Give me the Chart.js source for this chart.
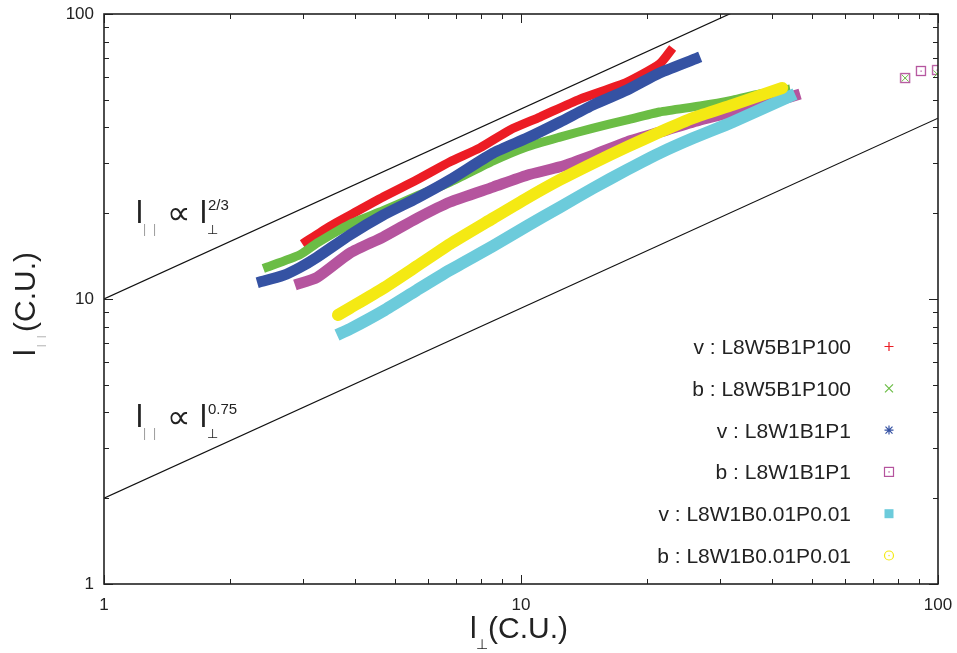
<!DOCTYPE html>
<html><head><meta charset="utf-8">
<script src="https://cdn.jsdelivr.net/npm/chart.js@4/dist/chart.umd.min.js"></script>
<style>html,body{margin:0;padding:0;background:#fff;}</style>
</head><body>
<canvas id="c" width="957" height="653"></canvas>
<script>
// ---------- data ----------
const xTickValues = [1, 10, 100];
const yTickValues = [1, 10, 100];

const seriesLabels = ['v : L8W5B1P100', 'b : L8W5B1P100', 'v : L8W1B1P1',
                      'b : L8W1B1P1', 'v : L8W1B0.01P0.01', 'b : L8W1B0.01P0.01'];

// v : L8W5B1P100 (red)
const vW5B1P100_x = [2.99, 3.48, 3.89, 4.67, 5.63, 6.76, 7.97, 9.41, 11.1, 13.85, 17.96, 21.5, 23.1];
const vW5B1P100_y = [15.6, 18.0, 19.7, 22.8, 26.2, 30.3, 33.9, 39.2, 43.5, 50.3, 57.7, 66.8, 76.0];
// b : L8W5B1P100 (green)
const bW5B1P100_x = [2.41, 2.95, 3.24, 3.89, 4.67, 5.63, 6.76, 8.57, 10.34, 12.4, 14.9, 17.96, 21.5, 26.9, 32.2, 37.4, 44.2];
const bW5B1P100_y = [12.8, 14.3, 15.7, 18.3, 20.4, 23.0, 25.7, 30.5, 34.2, 37.0, 39.8, 42.5, 45.3, 47.6, 49.9, 52.4, 54.6];
// v : L8W1B1P1 (blue)
const vW1B1P1_x = [2.33, 2.69, 2.95, 3.24, 3.89, 4.67, 5.63, 6.76, 8.57, 10.34, 12.4, 14.9, 17.96, 21.5, 26.9];
const vW1B1P1_y = [11.4, 12.1, 12.9, 14.0, 16.8, 19.7, 22.6, 26.2, 32.5, 36.7, 41.8, 48.0, 54.1, 62.1, 70.7];
// b : L8W1B1P1 (magenta)
const bW1B1P1_x = [2.87, 3.24, 3.89, 4.67, 5.63, 6.76, 8.57, 10.34, 12.4, 14.9, 17.96, 22.4, 26.9, 32.2, 42.5, 46.7];
const bW1B1P1_y = [11.2, 11.9, 14.5, 16.5, 19.2, 21.9, 24.7, 27.2, 29.1, 32.0, 35.6, 39.2, 42.5, 45.3, 50.3, 52.4];
// v : L8W1B0.01P0.01 (cyan)
const vW1B001_x = [3.62, 3.89, 4.67, 5.63, 6.76, 8.57, 10.34, 12.4, 14.9, 17.96, 21.5, 25.9, 32.2, 45.4];
const vW1B001_y = [7.48, 7.85, 9.08, 10.75, 12.64, 15.35, 18.04, 21.0, 24.5, 28.4, 32.5, 36.7, 41.8, 52.4];
// b : L8W1B0.01P0.01 (yellow)
const bW1B001_x = [3.64, 3.89, 4.67, 5.63, 6.76, 8.57, 10.34, 12.4, 14.9, 17.96, 21.5, 25.9, 32.2, 42.3];
const bW1B001_y = [8.79, 9.30, 10.9, 13.05, 15.6, 19.2, 22.6, 26.2, 30.0, 34.2, 38.5, 43.2, 48.0, 55.0];

// isolated points near the right edge
const bW1B1P1_farX = [83.4, 91.0, 99.5];
const bW1B1P1_farY = [59.6, 63.1, 63.6];
const bW5B1P100_farX = [83.4, 99.5];
const bW5B1P100_farY = [59.6, 61.6];

// guide lines l|| ∝ l⊥^a
const guideX = [1, 100];
const guideUpperY = [10, 215.4];
const guideLowerY = [2, 43.1];

// ---------- styling ----------
const colors = ['#ec1c24', '#6bbd45', '#3552a3', '#b5549e', '#6ccbdb', '#f4e913'];
const widths = [9, 9, 11, 11, 12, 12];
const caps = ['butt', 'butt', 'butt', 'butt', 'butt', 'round'];
const SERIES = [
  [vW5B1P100_x, vW5B1P100_y], [bW5B1P100_x, bW5B1P100_y], [vW1B1P1_x, vW1B1P1_y],
  [bW1B1P1_x, bW1B1P1_y], [vW1B001_x, vW1B001_y], [bW1B001_x, bW1B001_y]
];
const pts = (xs, ys) => xs.map((x, i) => ({x: x, y: ys[i]}));
const FONT = '"Liberation Sans", Arial, Helvetica, sans-serif';
const SYMF = '"DejaVu Sans", sans-serif';

function squareDot(col) {
  const c = document.createElement('canvas'); c.width = 12; c.height = 12;
  const g = c.getContext('2d');
  g.strokeStyle = col; g.lineWidth = 1.3; g.strokeRect(1.5, 1.5, 9, 9);
  g.fillStyle = col; g.fillRect(5.5, 5.5, 1.3, 1.3);
  return c;
}

const datasets = [];
datasets.push({label: 'guide 2/3', data: pts(guideX, guideUpperY), showLine: true, borderColor: '#111', borderWidth: 1.2, pointRadius: 0, order: 10});
datasets.push({label: 'guide 0.75', data: pts(guideX, guideLowerY), showLine: true, borderColor: '#111', borderWidth: 1.2, pointRadius: 0, order: 10});
SERIES.forEach((s, i) => {
  datasets.push({
    label: seriesLabels[i], data: pts(s[0], s[1]), showLine: true,
    borderColor: colors[i], backgroundColor: colors[i], borderWidth: widths[i],
    borderCapStyle: caps[i], borderJoinStyle: 'round', tension: 0.2,
    pointRadius: 0, order: 8 - i
  });
});
datasets.push({label: 'b : L8W1B1P1 (far)', data: pts(bW1B1P1_farX, bW1B1P1_farY), showLine: false,
  pointStyle: squareDot(colors[3]), pointRadius: 6, order: 1});
datasets.push({label: 'b : L8W5B1P100 (far)', data: pts(bW5B1P100_farX, bW5B1P100_farY), showLine: false,
  pointStyle: 'crossRot', pointRadius: 5, borderColor: colors[1], borderWidth: 1, order: 0});

// ---------- decorations plugin ----------
function drawLaw(ctx, x, base, sup) {
  ctx.textAlign = 'left'; ctx.textBaseline = 'alphabetic';
  ctx.fillStyle = '#222'; ctx.font = '31px ' + FONT;
  ctx.fillText('l', x - 2, base);
  ctx.fillStyle = '#9a9a9a'; ctx.font = '12px ' + FONT;
  ctx.fillText('|', x + 5, base + 10);
  ctx.fillText('|', x + 15, base + 10);
  ctx.fillStyle = '#222'; ctx.font = '33px ' + SYMF;
  ctx.fillText('\u221D', x + 29, base + 1);
  ctx.font = '31px ' + FONT;
  ctx.fillText('l', x + 62, base);
  ctx.font = '13px ' + SYMF;
  ctx.fillText('\u22A5', x + 69, base + 11);
  ctx.font = '15px ' + FONT;
  ctx.fillText(sup, x + 70, base - 13);
}

function legendMarker(ctx, i, cx, cy) {
  const col = colors[i];
  ctx.strokeStyle = col; ctx.fillStyle = col; ctx.lineWidth = 1.2;
  ctx.beginPath();
  if (i === 0) { ctx.moveTo(cx - 4.5, cy); ctx.lineTo(cx + 4.5, cy); ctx.moveTo(cx, cy - 4.5); ctx.lineTo(cx, cy + 4.5); ctx.stroke(); }
  else if (i === 1) { ctx.moveTo(cx - 4, cy - 4); ctx.lineTo(cx + 4, cy + 4); ctx.moveTo(cx - 4, cy + 4); ctx.lineTo(cx + 4, cy - 4); ctx.stroke(); }
  else if (i === 2) { ctx.moveTo(cx - 4.5, cy); ctx.lineTo(cx + 4.5, cy); ctx.moveTo(cx, cy - 4.5); ctx.lineTo(cx, cy + 4.5);
    ctx.moveTo(cx - 3.5, cy - 3.5); ctx.lineTo(cx + 3.5, cy + 3.5); ctx.moveTo(cx - 3.5, cy + 3.5); ctx.lineTo(cx + 3.5, cy - 3.5); ctx.stroke(); }
  else if (i === 3) { ctx.strokeRect(cx - 4.5, cy - 4.5, 9, 9); ctx.fillRect(cx - 0.6, cy - 0.6, 1.3, 1.3); }
  else if (i === 4) { ctx.fillRect(cx - 4.5, cy - 4.5, 9, 9); }
  else { ctx.arc(cx, cy, 4.5, 0, Math.PI * 2); ctx.stroke(); ctx.fillRect(cx - 0.6, cy - 0.6, 1.3, 1.3); }
}

const deco = {
  id: 'deco',
  afterDraw(chart) {
    const ctx = chart.ctx, a = chart.chartArea, xs = chart.scales.x, ys = chart.scales.y;
    ctx.save();
    // inward ticks on all four sides
    const tv = [];
    [1, 10].forEach(d => { for (let m = 1; m <= 9; m++) tv.push(m * d); });
    tv.push(100);
    ctx.strokeStyle = '#222'; ctx.lineWidth = 1;
    tv.forEach(v => {
      const L = (v === 1 || v === 10 || v === 100) ? 9 : 5;
      const px = Math.round(xs.getPixelForValue(v)) + 0.5;
      const py = Math.round(ys.getPixelForValue(v)) + 0.5;
      ctx.beginPath();
      ctx.moveTo(px, a.bottom); ctx.lineTo(px, a.bottom - L);
      ctx.moveTo(px, a.top); ctx.lineTo(px, a.top + L);
      ctx.moveTo(a.left, py); ctx.lineTo(a.left + L, py);
      ctx.moveTo(a.right, py); ctx.lineTo(a.right - L, py);
      ctx.stroke();
    });
    // frame
    ctx.lineWidth = 1.6;
    ctx.strokeRect(a.left, a.top, a.right - a.left, a.bottom - a.top);

    // annotations
    drawLaw(ctx, 138, 223, '2/3');
    drawLaw(ctx, 138, 427, '0.75');

    // legend (text then marker)
    ctx.textAlign = 'right'; ctx.textBaseline = 'alphabetic';
    seriesLabels.forEach((lab, i) => {
      const cy = 346.5 + i * 41.8;
      ctx.fillStyle = '#222'; ctx.font = '21px ' + FONT;
      ctx.fillText(lab, 851, cy + 7.5);
      legendMarker(ctx, i, 889, cy);
    });

    // x axis title: l⊥(C.U.)
    ctx.textAlign = 'left';
    ctx.fillStyle = '#222'; ctx.font = '30px ' + FONT;
    ctx.fillText('l', 470, 638);
    ctx.font = '14px ' + SYMF;
    ctx.fillText('\u22A5', 476, 649);
    ctx.font = '30px ' + FONT;
    ctx.fillText('(C.U.)', 488, 638);

    // y axis title: l||(C.U.)
    ctx.translate(35, 355);
    ctx.rotate(-Math.PI / 2);
    ctx.font = '30px ' + FONT;
    ctx.fillText('l', -1, 0);
    ctx.fillStyle = '#9a9a9a'; ctx.font = '9px ' + FONT;
    ctx.fillText('|', 8, 9);
    ctx.fillText('|', 17, 9);
    ctx.fillStyle = '#222'; ctx.font = '30px ' + FONT;
    ctx.fillText('(C.U.)', 23, 0);
    ctx.restore();
  }
};

new Chart(document.getElementById('c'), {
  type: 'scatter',
  data: {datasets: datasets},
  options: {
    responsive: false, animation: false, devicePixelRatio: 1,
    layout: {padding: {top: 14, right: 19, left: 0, bottom: 0}},
    plugins: {legend: {display: false}, tooltip: {enabled: false}},
    scales: {
      x: {
        type: 'logarithmic', min: 1, max: 100,
        grid: {display: false, drawTicks: false},
        border: {display: false},
        afterBuildTicks: s => { s.ticks = xTickValues.map(v => ({value: v})); },
        afterFit: s => { s.height = 69; s.paddingLeft = 0; s.paddingRight = 0; },
        ticks: {autoSkip: false, maxRotation: 0, padding: 11, color: '#222',
                font: {family: FONT, size: 17}, callback: v => String(v)}
      },
      y: {
        type: 'logarithmic', min: 1, max: 100,
        grid: {display: false, drawTicks: false},
        border: {display: false},
        afterBuildTicks: s => { s.ticks = yTickValues.map(v => ({value: v})); },
        afterFit: s => { s.width = 104; s.paddingTop = 0; s.paddingBottom = 0; },
        ticks: {autoSkip: false, padding: 10, color: '#222',
                font: {family: FONT, size: 17}, callback: v => String(v)}
      }
    }
  },
  plugins: [deco]
});
</script>
</body></html>
